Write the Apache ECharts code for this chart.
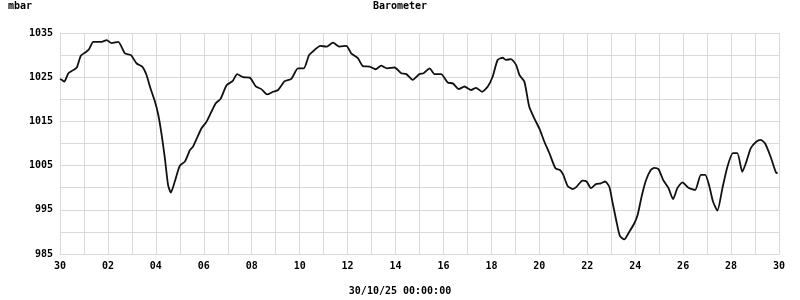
<!DOCTYPE html>
<html>
<head>
<meta charset="utf-8">
<script src="https://cdn.jsdelivr.net/npm/echarts@6/dist/echarts.min.js"></script>
<style>html,body{margin:0;padding:0;background:#fff}#c{width:800px;height:300px}</style>
</head>
<body>
<div id="c"></div>
<script>
// time offsets in days from the first tick
var days = [0,0.07,0.18,0.35,0.55,0.70,0.875,1.11,1.21,1.39,1.60,1.74,1.95,2.15,2.43,2.71,2.96,3.20,3.43,3.61,3.75,3.96,4.10,4.24,4.375,4.51,4.625,4.79,5.0,5.21,5.42,5.55,5.90,6.11,6.32,6.5,6.70,6.95,7.20,7.39,7.64,7.92,8.17,8.40,8.64,8.89,9.10,9.375,9.65,9.93,10.17,10.39,10.55,10.86,11.11,11.39,11.67,11.95,12.15,12.43,12.64,12.92,13.17,13.40,13.64,13.96,14.24,14.45,14.72,15.0,15.17,15.42,15.625,15.90,16.18,16.39,16.64,16.875,17.15,17.36,17.61,17.85,18.05,18.26,18.47,18.61,18.82,19.03,19.17,19.375,19.58,19.79,20.0,20.21,20.42,20.67,20.86,21.0,21.18,21.39,21.55,21.80,21.97,22.15,22.36,22.57,22.75,22.92,23.05,23.22,23.36,23.54,23.75,23.96,24.10,24.28,24.45,24.65,24.79,24.97,25.17,25.39,25.58,25.76,25.97,26.22,26.5,26.74,26.92,27.08,27.25,27.43,27.64,27.85,28.08,28.26,28.47,28.64,28.82,29.05,29.24,29.42,29.65,29.86,29.94];
var pressure = [1024.6,1024.4,1024.0,1025.9,1026.6,1027.2,1029.9,1030.8,1031.3,1033.0,1033.0,1033.0,1033.4,1032.7,1033.0,1030.4,1030.0,1028.1,1027.4,1025.5,1022.9,1019.5,1016.5,1012.0,1006.7,1000.6,998.9,1001.4,1005.0,1005.9,1008.5,1009.3,1013.4,1014.9,1017.2,1019.1,1020.1,1023.2,1024.1,1025.7,1025.0,1024.9,1022.9,1022.3,1021.1,1021.7,1022.1,1024.1,1024.6,1027.0,1027.0,1030.0,1030.8,1032.1,1031.9,1032.8,1031.9,1032.1,1030.4,1029.3,1027.5,1027.4,1026.8,1027.6,1027.0,1027.2,1025.9,1025.7,1024.4,1025.7,1025.9,1027.0,1025.7,1025.7,1023.8,1023.6,1022.3,1022.9,1022.1,1022.6,1021.7,1022.9,1025.1,1028.9,1029.4,1028.9,1029.1,1027.8,1025.5,1024.0,1018.3,1015.7,1013.4,1010.4,1007.8,1004.4,1004.0,1002.9,1000.4,999.7,1000.2,1001.6,1001.4,999.9,1000.8,1001.0,1001.4,1000.2,996.8,992.3,989.1,988.3,990.0,991.9,993.8,998.3,1001.7,1004.0,1004.5,1004.2,1001.7,999.9,997.4,999.9,1001.2,1000.0,999.5,1002.9,1002.9,1000.6,996.8,994.8,999.9,1004.8,1007.8,1007.8,1003.6,1005.9,1008.9,1010.4,1010.8,1010.0,1007.0,1003.6,1003.2];
var xTickLabels = ["30","02","04","06","08","10","12","14","16","18","20","22","24","26","28","30"];
var yTickLabels = ["985","995","1005","1015","1025","1035"];
var titleText = "Barometer";
var unitText = "mbar";
var footerText = "30/10/25 00:00:00";

var font = "DejaVu Sans Mono";
var chart = echarts.init(document.getElementById('c'), null, {renderer: 'canvas'});
var data = days.map(function (d, i) { return [d, pressure[i]]; });
chart.setOption({
  animation: false,
  backgroundColor: '#ffffff',
  grid: {left: 60, right: 21, top: 33, bottom: 46, containLabel: false},
  graphic: [
    {type: 'text', left: 'center', top: 1, style: {text: titleText, font: 'bold 10px "' + font + '"', fill: '#000'}},
    {type: 'text', left: 8, top: 1, style: {text: unitText, font: 'bold 10px "' + font + '"', fill: '#000'}},
    {type: 'text', left: 'center', top: 286, style: {text: footerText, font: 'bold 10px "' + font + '"', fill: '#000'}}
  ],
  xAxis: {
    type: 'value', min: 0, max: 30, interval: 1,
    axisLine: {show: true, lineStyle: {color: '#d9d9d9', width: 1}},
    axisTick: {show: false},
    splitLine: {show: true, lineStyle: {color: '#d9d9d9', width: 1}},
    axisLabel: {
      color: '#000', fontFamily: font, fontWeight: 'bold', fontSize: 10, margin: 7,
      showMinLabel: true, showMaxLabel: true,
      formatter: function (v) { var k = Math.round(v); return k % 2 === 0 ? xTickLabels[k / 2] : ''; }
    }
  },
  yAxis: {
    type: 'value', min: 985, max: 1035, interval: 5,
    axisLine: {show: true, lineStyle: {color: '#d9d9d9', width: 1}},
    axisTick: {show: false},
    splitLine: {show: true, lineStyle: {color: '#d9d9d9', width: 1}},
    axisLabel: {
      color: '#000', fontFamily: font, fontWeight: 'bold', fontSize: 10, margin: 7,
      formatter: function (v) { var k = Math.round(v - 985); return k % 10 === 0 ? yTickLabels[k / 10] : ''; }
    }
  },
  series: [{
    type: 'line', data: data, showSymbol: false, symbol: 'none',
    lineStyle: {color: '#111', width: 1.8}, smooth: 0.2
  }]
});
</script>
</body>
</html>
